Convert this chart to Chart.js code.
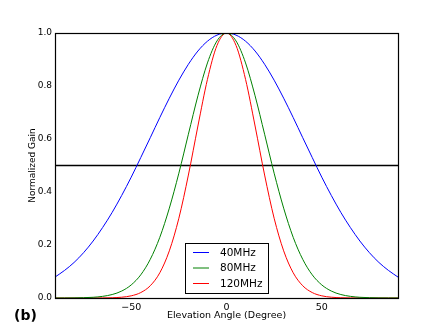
<!DOCTYPE html>
<html>
<head>
<meta charset="utf-8">
<script src="https://cdn.jsdelivr.net/npm/chart.js@4/dist/chart.umd.min.js"></script>
<style>
  html, body { margin: 0; padding: 0; background: #fff; }
  #wrap { position: relative; width: 443px; height: 332px; }
  canvas { display: block; }
</style>
</head>
<body>
<div id="wrap"><canvas id="c" width="443" height="332"></canvas></div>
<script>
// ---- Data ----
const angles = [-90,-85,-80,-75,-70,-65,-60,-55,-50,-45,-40,-35,-30,-25,-20,-15,-10,-5,0,5,10,15,20,25,30,35,40,45,50,55,60,65,70,75,80,85,90];
const gain40MHz = [0.079,0.104,0.134,0.171,0.215,0.266,0.323,0.387,0.456,0.530,0.605,0.681,0.754,0.822,0.882,0.932,0.969,0.992,1.000,0.992,0.969,0.932,0.882,0.822,0.754,0.681,0.605,0.530,0.456,0.387,0.323,0.266,0.215,0.171,0.134,0.104,0.079];
const gain80MHz = [0.0001,0.0002,0.0005,0.0012,0.0027,0.0062,0.0131,0.0262,0.0494,0.0874,0.146,0.229,0.339,0.471,0.618,0.763,0.887,0.970,1.000,0.970,0.887,0.763,0.618,0.471,0.339,0.229,0.146,0.0874,0.0494,0.0262,0.0131,0.0062,0.0027,0.0012,0.0005,0.0002,0.0001];
const gain120MHz = [0,0,0,0,0.0001,0.0003,0.0010,0.0030,0.0082,0.0205,0.0463,0.0952,0.178,0.301,0.464,0.649,0.825,0.953,1.000,0.953,0.825,0.649,0.464,0.301,0.178,0.0952,0.0463,0.0205,0.0082,0.0030,0.0010,0.0003,0.0001,0,0,0,0];
const halfPowerX = [-90, 90];
const halfPowerY = [0.5, 0.5];
const seriesLabels = ['40MHz', '80MHz', '120MHz'];
const xTicks = [-50, 0, 50];
const yTicks = [0.0, 0.2, 0.4, 0.6, 0.8, 1.0];
const xTitle = 'Elevation Angle (Degree)';
const yTitle = 'Normalized Gain';
const panelLabel = '(b)';

const FONT = '"DejaVu Sans", "Liberation Sans", sans-serif';
Chart.defaults.color = '#000';
Chart.defaults.font.family = FONT;

const pts = (xs, ys) => xs.map((x, i) => ({x: x, y: ys[i]}));

const frameAndLegend = {
  id: 'frameAndLegend',
  afterDatasetsDraw(chart) {
    const ctx = chart.ctx;
    const a = chart.chartArea;
    ctx.save();
    ctx.strokeStyle = '#000';
    ctx.lineWidth = 1.2;
    ctx.strokeRect(Math.round(a.left) + 0.5, Math.round(a.top) + 0.5,
                   Math.round(a.right - a.left), Math.round(a.bottom - a.top));
    // legend
    const bx = 185.5, by = 243.5, bw = 83, bh = 50;
    ctx.fillStyle = '#fff';
    ctx.fillRect(bx, by, bw, bh);
    ctx.lineWidth = 1;
    ctx.strokeStyle = '#000';
    ctx.strokeRect(bx, by, bw, bh);
    ctx.font = '10.5px ' + FONT;
    ctx.textBaseline = 'middle';
    ctx.textAlign = 'left';
    const rows = [252.5, 268, 283.5];
    for (let i = 0; i < 3; i++) {
      const ds = chart.data.datasets[i];
      ctx.strokeStyle = ds.borderColor;
      ctx.lineWidth = 1;
      ctx.beginPath();
      ctx.moveTo(193, rows[i]);
      ctx.lineTo(209, rows[i]);
      ctx.stroke();
      ctx.fillStyle = '#000';
      ctx.fillText(ds.label, 220, rows[i] + 0.5);
    }
    // panel label
    ctx.font = 'bold 14px ' + FONT;
    ctx.textBaseline = 'middle';
    ctx.fillText(panelLabel, 14, 316.5);
    ctx.restore();
  }
};

new Chart(document.getElementById('c'), {
  type: 'line',
  data: {
    datasets: [
      { label: seriesLabels[0], data: pts(angles, gain40MHz), borderColor: '#0000ff', borderWidth: 1, pointRadius: 0, cubicInterpolationMode: 'monotone', fill: false },
      { label: seriesLabels[1], data: pts(angles, gain80MHz), borderColor: '#008000', borderWidth: 1, pointRadius: 0, cubicInterpolationMode: 'monotone', fill: false },
      { label: seriesLabels[2], data: pts(angles, gain120MHz), borderColor: '#ff0000', borderWidth: 1, pointRadius: 0, cubicInterpolationMode: 'monotone', fill: false },
      { label: 'half', data: pts(halfPowerX, halfPowerY), borderColor: '#000', borderWidth: 1.5, pointRadius: 0, fill: false }
    ]
  },
  options: {
    responsive: false,
    animation: false,
    layout: { padding: { left: 0, right: 45, top: 33, bottom: 0 } },
    plugins: { legend: { display: false }, tooltip: { enabled: false } },
    scales: {
      x: {
        type: 'linear', min: -90, max: 90,
        grid: { display: false, drawTicks: false },
        border: { display: false },
        afterBuildTicks: s => { s.ticks = xTicks.map(v => ({value: v})); },
        afterFit: s => { s.height = 34; },
        ticks: { font: { size: 9.5 }, padding: 3.5, maxRotation: 0,
                 callback: v => (v < 0 ? '\u2212' + Math.abs(v) : String(v)) },
        title: { display: true, text: xTitle, font: { size: 9.5 }, padding: { top: 0, bottom: 11 } }
      },
      y: {
        type: 'linear', min: 0, max: 1,
        grid: { display: false, drawTicks: false },
        border: { display: false },
        afterBuildTicks: s => { s.ticks = yTicks.map(v => ({value: v})); },
        afterFit: s => { s.width = 55; },
        ticks: { font: { size: 9 }, padding: 3, callback: v => Number(v).toFixed(1) },
        title: { display: true, text: yTitle, font: { size: 9 }, padding: { top: 27, bottom: 0 } }
      }
    }
  },
  plugins: [frameAndLegend]
});
</script>
</body>
</html>
